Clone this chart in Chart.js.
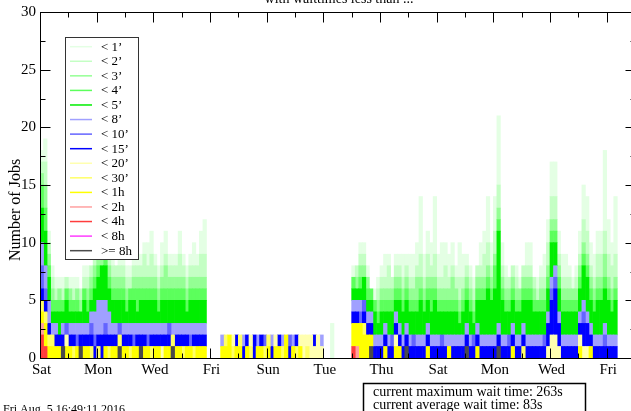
<!DOCTYPE html>
<html><head><meta charset="utf-8">
<script src="https://cdn.jsdelivr.net/npm/chart.js@4.4.1/dist/chart.umd.min.js"></script>
<style>html,body{margin:0;padding:0;background:#fff;overflow:hidden;width:631px;height:411px}canvas{display:block}</style>
</head><body>
<canvas id="c" width="640" height="411"></canvas>
<script>
// 3-hour bins starting Saturday 00:00, 163 bins
const binHours = 3;
const dayLabels = ['Sat','Mon','Wed','Fri','Sun','Tue','Thu','Sat','Mon','Wed','Fri'];
const yTickValues = [0,5,10,15,20,25,30];
const seriesLabels = ["< 1’","< 2’","< 3’","< 4’","< 5’","< 8’","< 10’","< 15’","< 20’","< 30’","< 1h","< 2h","< 4h","< 8h",">= 8h"];
const seriesColors = ['#e4ffe4','#c4ffc4','#94ff94','#5cff5c','#00ee00','#a0a0ff','#6464ff','#0000ff','#ffffb0','#ffff66','#ffff00','#ffa0a0','#ff3c3c','#ff3cff','#4a4a4a'];

const lt1 = [1,2,1,
 1,1,1,1,0,1,1,1,0,1, 1,0,1,0,1,1,1,1,0,1, 2,1,1,2,1,1,1,2,2,1, 1,2,2,1,1,1,2,1,1,1, 2,1,2,3,0,
 0,0,0,
 0,0,0,0,0,0,0,0,0,0, 0,0,0,0,0,0,0,0,0,0, 0,0,0,0,0,0,0,0,0,
 0,0,3,0,0,0,0,0,
 1,0,1,1,1,0,1,1,1,2, 1,0,1,1,2,1,2,2,2,5, 2,2,2,5,2,3,2,2,2,1, 3,2,1,1,1,0,2,2,4,2,
 3,6,2,1,0,0,1,1,0,2, 2,0,1,1,2,2,3,3,2,2, 2,1,1,1,2,3,3,2,2,2, 2,7,3,2,5];
const lt2 = [1,2,1,
 1,1,0,1,1,0,1,0,1,1, 1,1,1,1,0,1,1,1,1,1, 1,1,1,1,1,1,2,1,2,1, 1,1,1,1,1,1,2,1,1,1, 1,1,2,2,0,
 0,0,0,
 0,0,0,0,0,0,0,0,0,0, 0,0,0,0,0,0,0,0,0,0, 0,0,0,0,0,0,0,0,0,
 0,0,0,0,0,0,0,0,
 0,1,1,1,0,0,0,1,1,1, 2,1,1,1,1,1,1,1,1,2, 1,2,1,2,1,1,2,1,1,1, 2,1,1,1,1,1,1,2,2,1,
 2,2,1,1,1,1,1,0,1,1, 1,1,1,1,1,2,2,2,1,1, 1,1,0,1,1,2,2,1,1,2, 2,2,2,2,2];
const lt3 = [1,2,1,
 1,0,1,0,0,1,0,1,1,0, 1,1,1,1,1,0,1,1,1,1, 1,1,0,1,1,1,1,1,1,1, 1,1,2,1,1,1,1,1,1,1, 1,1,1,1,0,
 0,0,0,
 0,0,0,0,0,0,0,0,0,0, 0,0,0,0,0,0,0,0,0,0, 0,0,0,0,0,0,0,0,0,
 0,0,0,0,0,0,0,0,
 0,1,1,1,1,0,0,1,1,1, 1,1,1,1,1,1,1,1,2,1, 1,1,1,1,1,1,1,1,2,1, 1,1,1,1,1,1,1,1,1,1,
 1,1,1,1,1,1,1,1,1,1, 1,1,0,1,1,1,1,1,1,1, 1,1,1,1,1,1,1,1,1,1, 1,2,1,1,1];
const lt4 = [2,2,1,
 1,1,1,1,1,1,1,1,0,1, 1,1,1,1,0,1,1,1,1,1, 1,1,1,1,2,1,1,1,1,1, 1,1,1,1,1,1,1,1,1,1, 1,1,1,1,0,
 0,0,0,
 0,0,0,0,0,0,0,0,0,0, 0,0,0,0,0,0,0,0,0,0, 0,0,0,0,0,0,0,0,0,
 0,0,0,0,0,0,0,0,
 1,0,1,0,1,1,1,1,1,1, 1,1,1,1,1,1,1,1,1,1, 1,1,2,1,1,1,1,1,1,1, 1,1,1,1,1,1,1,1,1,1,
 2,1,1,1,1,1,1,1,1,1, 1,1,1,1,1,1,1,1,1,1, 1,1,1,1,1,1,1,1,1,1, 1,1,1,1,1];
const lt5 = [3,3,2,
 1,1,2,1,2,1,1,1,1,2, 1,1,2,2,3,3,2,2,2,2, 2,1,2,2,1,2,2,2,2,2, 1,2,2,2,2,2,2,2,1,2, 2,2,2,2,0,
 0,0,0,
 0,0,0,0,0,0,0,0,0,0, 0,0,0,0,0,0,0,0,0,0, 0,0,0,0,0,0,0,0,0,
 0,0,0,0,0,0,0,0,
 1,1,1,2,1,1,2,1,2,1, 2,2,1,2,2,2,2,2,2,3, 2,2,2,3,2,2,2,2,2,2, 1,2,2,2,1,2,3,3,4,3,
 4,8,3,2,2,2,2,2,2,3, 3,2,2,2,2,2,3,2,2,2, 2,2,2,2,2,3,3,2,2,3, 3,3,3,2,3];
const lt8 = [2,2,2,
 1,1,0,1,0,1,1,1,1,1, 1,1,2,3,3,2,2,1,1,0, 1,1,1,1,1,1,1,1,1,1, 1,1,1,0,1,1,1,1,1,1, 1,1,1,1,0,
 0,0,0,
 1,0,0,0,0,0,1,0,0,0, 1,0,0,0,1,0,0,1,0,0, 1,0,0,0,0,0,0,0,1,
 0,0,0,0,0,0,0,0,
 1,1,1,0,1,1,1,1,1,1, 1,0,1,1,1,1,1,0,1,1, 1,1,1,1,1,0,1,1,1,1, 1,1,1,1,0,1,1,1,1,1,
 1,1,1,1,0,1,1,1,1,1, 1,1,1,1,0,1,1,1,1,1, 1,1,1,1,1,1,1,1,1,1, 1,1,1,1,1];
const lt10 = [2,1,0,
 0,0,0,0,1,0,0,1,0,0, 0,1,1,0,0,1,0,0,0,1, 0,0,0,1,0,0,0,1,0,0, 0,0,0,1,0,0,0,0,0,1, 0,0,0,0,0,
 0,0,0,
 0,0,0,0,0,0,0,0,0,0, 0,0,1,0,0,0,0,0,0,1, 0,0,0,0,0,0,0,0,0,
 0,0,0,0,0,0,0,0,
 0,0,1,1,0,0,0,0,0,0, 0,1,0,0,0,0,0,1,0,0, 0,0,0,0,0,1,0,0,0,0, 0,0,0,0,1,0,0,0,0,0,
 0,0,0,0,1,0,0,0,0,0, 0,0,0,0,1,0,1,1,0,0, 0,0,0,0,0,1,0,0,0,0, 0,1,0,0,0];
const lt15 = [1,1,1,
 0,1,1,1,0,1,1,0,1,1, 1,1,1,1,2,1,1,1,1,0, 1,1,1,0,1,1,1,0,1,1, 1,1,1,1,0,1,1,1,1,0, 1,1,1,1,0,
 0,0,0,
 0,0,0,0,1,0,1,1,0,2, 0,1,0,0,1,0,1,0,0,1, 0,1,0,0,0,0,1,0,0,
 0,0,0,0,0,0,0,0,
 1,1,0,1,1,1,1,1,1,1, 1,1,1,1,1,1,1,1,1,1, 1,1,1,1,1,1,1,0,1,1, 1,1,1,1,1,1,1,1,1,1,
 1,1,1,1,1,1,1,1,1,1, 1,1,1,1,1,2,3,4,2,1, 1,1,1,1,1,2,2,1,1,1, 1,1,1,1,1];
const lt20 = [0,0,0,
 0,0,0,0,1,0,0,0,0,0, 0,0,0,0,0,0,0,0,0,0, 0,0,0,0,0,0,0,0,0,0, 0,1,0,0,0,0,0,0,0,0, 0,0,0,0,0,
 0,0,0,
 0,0,0,1,0,0,0,0,1,0, 0,0,0,0,0,1,0,0,0,0, 0,0,1,2,1,2,1,2,1,
 0,0,0,0,0,0,0,0,
 0,0,0,0,0,0,0,0,0,0, 0,0,1,0,0,0,0,0,0,0, 0,0,0,0,0,0,0,0,0,0, 0,0,0,0,0,0,0,0,0,0,
 0,0,0,0,0,0,0,0,0,0, 0,0,0,0,0,1,2,2,1,0, 0,0,0,0,1,1,1,0,0,0, 0,0,0,0,0];
const lt30 = [1,1,1,
 1,0,0,0,0,0,1,0,0,0, 0,1,0,1,0,0,1,0,0,1, 0,0,1,0,0,0,0,0,1,0, 0,0,0,0,1,0,0,1,0,0, 1,0,0,0,0,
 0,0,0,
 0,1,0,1,0,1,0,0,1,0, 0,0,1,1,0,0,0,1,0,0, 0,1,0,0,1,0,0,0,0,
 0,0,0,0,0,0,0,0,
 0,0,0,1,0,0,0,0,0,0, 0,0,0,0,0,0,0,0,0,0, 0,0,0,0,0,0,0,0,0,0, 0,0,0,0,0,0,0,0,0,0,
 0,0,0,0,0,0,0,0,1,0, 0,0,0,0,0,0,0,0,0,0, 0,0,0,0,0,0,0,0,0,0, 0,0,0,0,0];
const lt1h = [1,2,1,
 1,1,1,0,1,1,0,1,0,1, 1,0,0,0,0,1,0,1,1,0, 1,1,0,1,1,0,1,1,0,1, 1,0,1,1,0,1,1,0,1,1, 0,1,1,1,0,
 0,0,0,
 1,1,2,0,1,1,0,1,0,0, 1,1,0,1,0,1,1,0,2,0, 1,0,1,0,0,0,0,0,0,
 0,0,0,0,0,0,0,0,
 2,2,3,2,2,1,0,0,0,1, 0,0,1,1,0,0,0,0,0,0, 0,1,0,0,0,0,0,1,0,0, 0,0,0,0,0,1,0,0,0,0,
 0,0,0,0,0,1,0,0,0,0, 0,0,0,0,0,0,0,0,0,0, 0,0,0,0,1,0,0,1,0,0, 0,0,0,0,0];
const lt2h = [1,0,0,
 0,0,0,0,0,0,0,0,0,0, 0,0,0,0,0,0,0,0,0,0, 0,0,0,0,0,0,0,0,0,0, 0,0,0,0,0,0,0,0,0,0, 0,0,0,0,0,
 0,0,0,
 0,0,0,0,0,0,0,0,0,0, 0,0,0,0,0,0,0,0,0,0, 0,0,0,0,0,0,0,0,0,
 0,0,0,0,0,0,0,0,
 0,1,0,0,0,0,0,0,0,0, 0,0,0,0,0,0,0,0,0,0, 0,0,0,0,0,0,0,0,0,0, 0,0,0,0,0,0,0,0,0,0,
 0,0,0,0,0,0,0,0,0,0, 0,0,0,0,0,0,0,0,0,0, 0,0,0,0,0,0,0,0,0,0, 0,0,0,0,0];
const lt4h = [2,1,0,
 0,0,0,0,0,0,0,0,0,0, 0,0,0,0,0,0,0,0,0,0, 0,0,0,0,0,0,0,0,0,0, 0,0,0,0,0,0,0,0,0,0, 0,0,0,0,0,
 0,0,0,
 0,0,0,0,0,0,0,0,0,0, 0,0,0,0,0,0,0,0,0,0, 0,0,0,0,0,0,0,0,0,
 0,0,0,0,0,0,0,0,
 1,0,0,0,0,0,0,0,0,0, 0,0,0,0,0,0,0,0,0,0, 0,0,0,0,0,0,0,0,0,0, 0,0,0,0,0,0,0,0,0,0,
 0,0,0,0,0,0,0,0,0,0, 0,0,0,0,0,0,0,0,0,0, 0,0,0,0,0,0,0,0,0,0, 0,0,0,0,0];
const lt8h = [0,0,0,
 0,0,0,0,0,0,0,0,0,0, 0,0,0,0,0,0,0,0,0,0, 0,0,0,0,0,0,0,0,0,0, 0,0,0,0,0,0,0,0,0,0, 0,0,0,0,0,
 0,0,0,
 0,0,0,0,0,0,0,0,0,0, 0,0,0,0,0,0,0,0,0,0, 0,0,0,0,0,0,0,0,0,
 0,0,0,0,0,0,0,0,
 0,0,0,0,0,0,0,0,0,0, 0,0,0,0,0,0,0,0,0,0, 0,0,0,0,0,0,0,0,0,0, 0,0,0,0,0,0,0,0,0,0,
 0,0,0,0,0,0,0,0,0,0, 0,0,0,0,0,0,0,0,0,0, 0,0,0,0,0,0,0,0,0,0, 0,0,0,0,0];
const ge8h = [0,0,0,
 0,0,0,1,0,0,0,0,1,0, 0,0,0,0,0,0,0,0,0,1, 0,0,0,0,0,1,0,0,0,0, 0,0,0,0,1,0,0,0,0,0, 0,0,0,0,0,
 0,0,0,
 0,0,0,0,0,0,0,0,0,0, 0,0,0,0,0,0,0,0,0,0, 0,0,0,0,0,0,0,0,0,
 0,0,0,0,0,0,0,0,
 0,0,0,0,0,1,0,0,0,0, 0,0,0,0,0,1,0,0,0,0, 0,0,0,0,0,0,0,0,0,0, 0,0,1,0,0,0,0,0,0,0,
 0,1,0,0,0,0,0,0,0,0, 0,0,0,0,0,0,0,0,0,0, 0,0,0,0,0,0,0,0,0,0, 0,0,0,0,0];

const series = [lt1,lt2,lt3,lt4,lt5,lt8,lt10,lt15,lt20,lt30,lt1h,lt2h,lt4h,lt8h,ge8h];

// stacked bottom-up: longest waits at the bottom
const datasets = series.map((arr,k)=>({
  label: seriesLabels[k],
  data: arr.map((v,i)=>({x:(i+0.5)*binHours/24, y: v===0?null:v})),
  backgroundColor: seriesColors[k],
  borderWidth: 0,
  barPercentage: 1,
  categoryPercentage: 1
})).reverse();

const decor = {
  id:'decor',
  afterDraw(chart){
    const ctx = chart.ctx, xs = chart.scales.x, ys = chart.scales.y, a = chart.chartArea;
    const L = 40.5, R = a.right + 0.5, T = 12.5, B = 358.5;
    ctx.save();
    ctx.strokeStyle = '#000'; ctx.lineWidth = 1;
    ctx.beginPath();
    for (let v = 0; v <= 30; v += 2.5) {
      const y = Math.round(ys.getPixelForValue(v)) + 0.5;
      const len = (v % 5 === 0) ? 10 : 5;
      ctx.moveTo(L, y); ctx.lineTo(L + len, y);
      ctx.moveTo(R, y); ctx.lineTo(R - len, y);
    }
    for (let d = 0; d <= 21; d++) {
      const x = Math.round(xs.getPixelForValue(d)) + 0.5;
      const len = (d % 2 === 0) ? 10 : 5;
      ctx.moveTo(x, T); ctx.lineTo(x, T + len);
      ctx.moveTo(x, B); ctx.lineTo(x, B - len);
    }
    ctx.stroke();
    ctx.strokeRect(L, T, R - L, B - T);

    ctx.fillStyle = '#000';
    ctx.font = '15px "Liberation Serif"';
    ctx.textAlign = 'right'; ctx.textBaseline = 'middle';
    yTickValues.forEach(v => ctx.fillText(String(v), 36, ys.getPixelForValue(v)));
    ctx.textAlign = 'center';
    dayLabels.forEach((lab, j) => ctx.fillText(lab, xs.getPixelForValue(j*2) + 1.5, 370));

    ctx.save();
    ctx.translate(16, 210); ctx.rotate(-Math.PI/2);
    ctx.font = '16px "Liberation Serif"';
    ctx.textAlign = 'center'; ctx.textBaseline = 'middle';
    ctx.fillText('Number of Jobs', 0, 0);
    ctx.restore();

    ctx.font = '14px "Liberation Serif"';
    ctx.textAlign = 'center'; ctx.textBaseline = 'alphabetic';
    ctx.fillText('with waittimes less than ...', 339, 3);

    const lx = 65, ly = 37, lw = 74, lh = 223;
    ctx.fillStyle = '#fff';
    ctx.fillRect(lx, ly, lw, lh);
    ctx.strokeStyle = '#333'; ctx.lineWidth = 1;
    ctx.strokeRect(lx + 0.5, ly + 0.5, lw - 1, lh - 1);
    ctx.font = '13px "Liberation Serif"';
    ctx.textAlign = 'left'; ctx.textBaseline = 'middle';
    seriesLabels.forEach((lab, i) => {
      const y = 46.7 + i * 14.57;
      ctx.strokeStyle = seriesColors[i]; ctx.lineWidth = 1.5;
      ctx.beginPath(); ctx.moveTo(70, y); ctx.lineTo(92, y); ctx.stroke();
      ctx.fillStyle = '#000';
      ctx.fillText(lab, 101, y + 0.5);
    });

    ctx.fillStyle = '#fff';
    ctx.fillRect(363, 383, 223, 40);
    ctx.strokeStyle = '#000'; ctx.lineWidth = 1.5;
    ctx.strokeRect(363.5, 383.5, 222, 40);
    ctx.fillStyle = '#000';
    ctx.font = '14px "Liberation Serif"';
    ctx.textAlign = 'left'; ctx.textBaseline = 'middle';
    ctx.fillText('current maximum wait time: 263s', 373, 392);
    ctx.fillText('current average wait time: 83s', 373, 405);

    ctx.font = '12px "Liberation Serif"';
    ctx.textBaseline = 'alphabetic';
    ctx.fillText('Fri Aug  5 16:49:11 2016', 3, 413);
    ctx.restore();
  }
};

new Chart(document.getElementById('c'), {
  type: 'bar',
  data: { datasets },
  options: {
    responsive: false,
    animation: false,
    devicePixelRatio: 1,
    layout: { padding: { left: 40, top: 12, right: 5, bottom: 53 } },
    plugins: { legend: { display: false }, tooltip: { enabled: false }, title: { display: false } },
    scales: {
      x: { type: 'linear', min: 0, max: 21, stacked: true, display: false, offset: false },
      y: { min: 0, max: 30, stacked: true, display: false }
    }
  },
  plugins: [decor]
});
</script>
</body></html>
